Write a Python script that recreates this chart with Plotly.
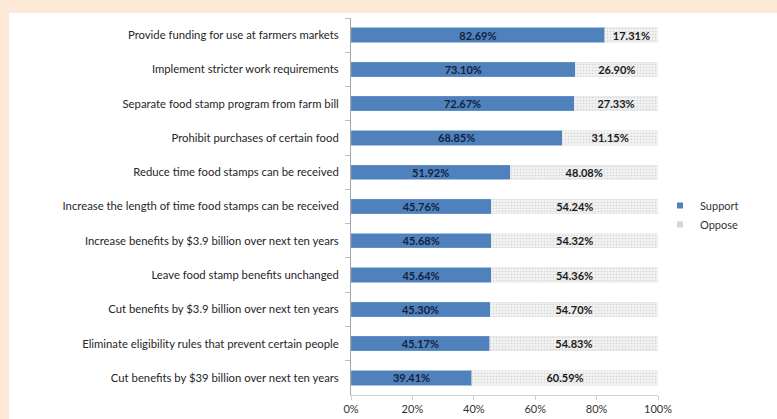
import plotly.graph_objects as go

# Survey items, listed top to bottom
measures = [
    "Provide funding for use at farmers markets",
    "Implement stricter work requirements",
    "Separate food stamp program from farm bill",
    "Prohibit purchases of certain food",
    "Reduce time food stamps can be received",
    "Increase the length of time food stamps can be received",
    "Increase benefits by $3.9 billion over next ten years",
    "Leave food stamp benefits unchanged",
    "Cut benefits by $3.9 billion over next ten years",
    "Eliminate eligibility rules that prevent certain people",
    "Cut benefits by $39 billion over next ten years",
]
support = [82.69, 73.10, 72.67, 68.85, 51.92, 45.76, 45.68, 45.64, 45.30, 45.17, 39.41]
oppose = [17.31, 26.90, 27.33, 31.15, 48.08, 54.24, 54.32, 54.36, 54.70, 54.83, 60.59]
x_ticks = [0, 20, 40, 60, 80, 100]
x_tick_labels = ["0%", "20%", "40%", "60%", "80%", "100%"]

FONT = "Lato, 'Open Sans', sans-serif"
W, H = 777, 419
L, R, T, B = 351, 119, 18, 24
pw, ph = W - L - R, H - T - B

SUPPORT_BLUE = "#4f81bd"
OPPOSE_GREY = "#d6d6d6"

fig = go.Figure()
fig.add_trace(go.Bar(
    name="Support", y=measures, x=support, orientation="h",
    marker=dict(color=SUPPORT_BLUE, line=dict(color="#6f98cc", width=0.6)),
    texttemplate="%{x:.2f}%", textposition="inside", insidetextanchor="middle",
    constraintext="none",
    textfont=dict(family=FONT, size=11, color="#14213d", weight="bold"),
    width=0.42, showlegend=False,
))
fig.add_trace(go.Bar(
    name="Oppose", y=measures, x=oppose, orientation="h",
    marker=dict(
        color="#ffffff",
        line=dict(color="#e4e4e4", width=0.6),
        pattern=dict(shape=".", size=3, solidity=0.4, fgcolor="#bcbcbc", bgcolor="#f6f6f6"),
    ),
    texttemplate="%{x:.2f}%", textposition="inside", insidetextanchor="middle",
    constraintext="none",
    textfont=dict(family=FONT, size=11, color="#1a1a1a", weight="bold"),
    width=0.42, showlegend=False,
))

# Small square legend keys
for name, colour in (("Support", SUPPORT_BLUE), ("Oppose", OPPOSE_GREY)):
    fig.add_trace(go.Scatter(
        x=[None], y=[None], mode="markers", name=name,
        marker=dict(symbol="square", size=6, color=colour),
    ))

# White chart panel on the peach page background
fig.add_shape(
    type="rect", xref="paper", yref="paper", layer="below",
    x0=(9 - L) / pw, x1=(W + 2 - L) / pw,
    y0=(T + ph - H - 2) / ph, y1=(T + ph - 13) / ph,
    fillcolor="white", line=dict(width=0),
)

fig.update_layout(
    width=W, height=H,
    barmode="stack",
    margin=dict(l=L, r=R, t=T, b=B, autoexpand=False),
    paper_bgcolor="#fde9d8",
    plot_bgcolor="rgba(0,0,0,0)",
    font=dict(family=FONT, size=11, color="#262626"),
    showlegend=True,
    uniformtext=dict(minsize=11, mode="show"),
    legend=dict(
        x=(660 - L) / pw, y=(T + ph - 215) / ph, xanchor="left", yanchor="middle",
        traceorder="normal", itemsizing="trace",
        bgcolor="rgba(0,0,0,0)", font=dict(family=FONT, size=11, color="#333333"),
        itemwidth=30,
    ),
    bargap=0.58,
)
fig.update_xaxes(
    range=[0, 100], tickvals=x_ticks, ticktext=x_tick_labels,
    showgrid=False, zeroline=False, automargin=False,
    showline=True, linecolor="#d0d0d0", linewidth=1,
    ticks="outside", ticklen=4, tickcolor="#d0d0d0",
    tickfont=dict(family=FONT, size=11, color="#333333"),
)
fig.update_yaxes(
    autorange="reversed", showgrid=False, zeroline=False, automargin=False,
    showline=True, linecolor="#a6a6a6", linewidth=1,
    ticks="outside", ticklen=5, tickcolor="#bfbfbf", tickson="boundaries",
    tickfont=dict(family=FONT, size=11.3, color="#262626"),
    ticklabelstandoff=9,
)

fig.write_html("out.html")
